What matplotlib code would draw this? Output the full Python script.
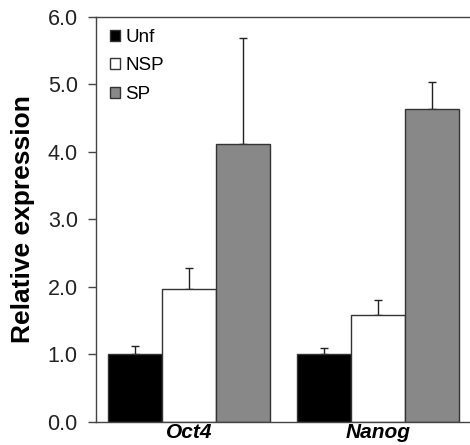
import numpy as np
import matplotlib.pyplot as plt
from matplotlib.patches import Patch

plt.rcParams['font.family'] = ['Liberation Sans', 'DejaVu Sans']

genes = ['Oct4', 'Nanog']
groups = ['Unf', 'NSP', 'SP']
unf = [1.0, 1.0]
nsp = [1.97, 1.59]
sp = [4.11, 4.63]
unf_err = [0.13, 0.10]
nsp_err = [0.31, 0.22]
sp_err = [1.58, 0.40]

colors = ['#000000', '#ffffff', '#888888']

fig = plt.figure(figsize=(4.7, 4.45), dpi=100)
ax = fig.add_axes([0.204, 0.052, 0.796, 0.910])

x = np.arange(len(genes))
w = 0.2857
for i, (vals, errs) in enumerate(zip([unf, nsp, sp], [unf_err, nsp_err, sp_err])):
    pos = x + (i - 1) * w
    ax.bar(pos, vals, w, color=colors[i], edgecolor='#333333', linewidth=1.0, zorder=2)
    ax.errorbar(pos, vals, yerr=[np.zeros(len(errs)), errs], fmt='none',
                ecolor='#222222', elinewidth=1.0, capsize=3, capthick=1.0, zorder=1)

ax.set_xlim(-0.492, 1.487)
ax.set_ylim(0, 6)
ax.set_yticks(np.arange(0, 6.1, 1))
ax.set_yticklabels(['%.1f' % v for v in np.arange(0, 6.1, 1)], fontsize=15.5, color='#222222')
ax.set_xticks(x)
ax.set_xticklabels(genes, fontsize=15, fontweight='bold', fontstyle='italic')
ax.tick_params(axis='x', length=0, pad=1)
ax.tick_params(axis='y', direction='out', length=6, width=1, color='#444444', pad=7)
ax.set_ylabel('Relative expression', fontsize=19, fontweight='bold', labelpad=9)

ax.spines['right'].set_visible(False)
for s in ['left', 'top', 'bottom']:
    ax.spines[s].set_color('#444444')
    ax.spines[s].set_linewidth(1.0)

handles = [Patch(facecolor=c, edgecolor='#333333', label=g) for c, g in zip(colors, groups)]
ax.legend(handles=handles, loc='upper left', bbox_to_anchor=(0.009, 0.996), frameon=False,
          fontsize=13.5, handlelength=0.55, handleheight=0.55, handletextpad=0.3,
          labelspacing=0.62, borderaxespad=0.25, borderpad=0.3)

fig.savefig('out.png', dpi=100)
